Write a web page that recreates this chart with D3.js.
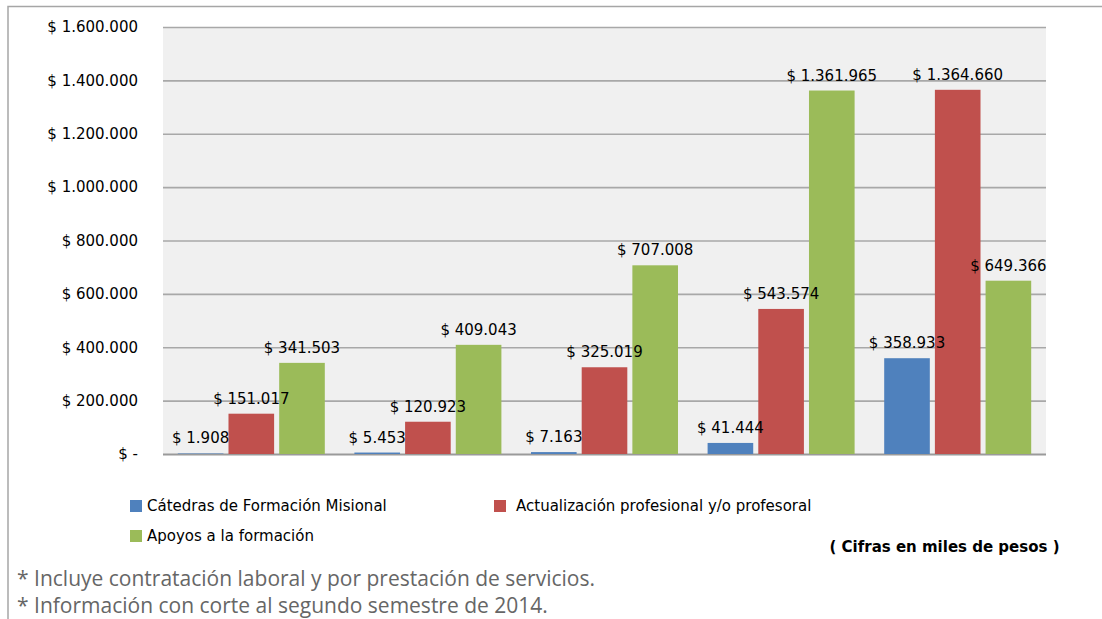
<!DOCTYPE html>
<html>
<head>
<meta charset="utf-8">
<script src="https://cdn.jsdelivr.net/npm/d3@7"></script>
<style>
  html, body { margin: 0; padding: 0; background: #fff; }
  svg { display: block; }
</style>
</head>
<body>
<svg id="chart" width="1102" height="619"></svg>
<script>
// Presupuesto por línea de formación (cifras en miles de pesos)
const groups = ["G1", "G2", "G3", "G4", "G5"];
const seriesNames = [
  "Cátedras de Formación Misional",
  "Actualización profesional y/o profesoral",
  "Apoyos a la formación"
];
const catedras = [1908, 5453, 7163, 41444, 358933];
const actualizacion = [151017, 120923, 325019, 543574, 1364660];
const apoyos = [341503, 409043, 707008, 1361965, 649366];
const seriesColors = ["#4F81BD", "#C0504D", "#9BBB59"];
const yTicks = [0, 200000, 400000, 600000, 800000, 1000000, 1200000, 1400000, 1600000];
const notes = [
  "* Incluye contratación laboral y por prestación de servicios.",
  "* Información con corte al segundo semestre de 2014."
];
const unitsLabel = "( Cifras en miles de pesos )";

const seriesValues = [catedras, actualizacion, apoyos];

// Formato con punto como separador de miles
const fmt = v => "$ " + d3.format(",")(v).replace(/,/g, ".");

const svg = d3.select("#chart");
const font = "'DejaVu Sans', Verdana, sans-serif";

// Marco exterior
svg.append("path")
  .attr("d", "M8,619 L8,6.5 L1102,6.5")
  .attr("fill", "none")
  .attr("stroke", "#A6A6A6")
  .attr("stroke-width", 1.5);

const plot = { left: 163, right: 1046, top: 27, bottom: 454 };

const x0 = d3.scaleBand().domain(groups)
  .range([plot.left, plot.right]).paddingInner(0).paddingOuter(0);
const x1 = d3.scaleBand().domain(d3.range(seriesNames.length))
  .range([0, 147]).paddingInner(0.1).paddingOuter(0);
const y = d3.scaleLinear().domain([0, 1600000]).range([plot.bottom, plot.top]);

// Fondo del área de trazado
svg.append("rect")
  .attr("x", plot.left).attr("y", plot.top)
  .attr("width", plot.right - plot.left).attr("height", plot.bottom - plot.top)
  .attr("fill", "#F0F0F0");

// Eje Y con líneas de cuadrícula
const yAxis = d3.axisLeft(y).tickValues(yTicks)
  .tickSize(-(plot.right - plot.left)).tickPadding(25)
  .tickFormat(v => v === 0 ? "$ -" : fmt(v));
const gy = svg.append("g")
  .attr("transform", `translate(${plot.left},0)`)
  .call(yAxis);
gy.select(".domain").remove();
gy.selectAll(".tick line")
  .attr("stroke", d => d === 0 ? "#9A9A9A" : "#A8A8A8")
  .attr("stroke-width", d => d === 0 ? 2 : 1.6);
gy.selectAll(".tick text")
  .attr("font-family", font).attr("font-size", 15).attr("fill", "#000")
  .attr("dy", "0.32em");

// Datos planos: una entrada por barra
const flat = [];
groups.forEach((g, gi) => {
  seriesValues.forEach((vals, si) => flat.push({ g, si, v: vals[gi] }));
});
const offset = (x0.bandwidth() - 147) / 2;
const bx = d => x0(d.g) + offset + x1(d.si);

// Barras
svg.append("g").selectAll("rect")
  .data(flat).join("rect")
  .attr("x", bx).attr("width", x1.bandwidth())
  .attr("y", d => y(d.v)).attr("height", d => y(0) - y(d.v))
  .attr("fill", d => seriesColors[d.si]);

// Etiquetas de valor, por encima de todas las barras
svg.append("g").selectAll("text")
  .data(flat).join("text")
  .attr("x", d => bx(d) + x1.bandwidth() / 2)
  .attr("y", d => y(d.v) - 10)
  .attr("text-anchor", "middle")
  .attr("font-family", font).attr("font-size", 15).attr("fill", "#000")
  .text(d => fmt(d.v));

// Leyenda
const legendItems = [
  { x: 130, y: 506, tx: 147 },
  { x: 494, y: 506, tx: 516 },
  { x: 130, y: 536, tx: 147 }
];
const legend = svg.append("g");
seriesNames.forEach((name, i) => {
  const it = legendItems[i];
  legend.append("rect")
    .attr("x", it.x).attr("y", it.y - 6)
    .attr("width", 12).attr("height", 12)
    .attr("fill", seriesColors[i]);
  legend.append("text")
    .attr("x", it.tx).attr("y", it.y)
    .attr("dy", "0.35em")
    .attr("font-family", font).attr("font-size", 15).attr("fill", "#000")
    .text(name);
});

// Unidades
svg.append("text")
  .attr("x", 944.5).attr("y", 547).attr("dy", "0.35em")
  .attr("text-anchor", "middle")
  .attr("font-family", font).attr("font-size", 15).attr("font-weight", "bold")
  .attr("fill", "#000")
  .text(unitsLabel);

// Notas al pie
svg.append("g").selectAll("text")
  .data(notes).join("text")
  .attr("x", 17).attr("y", (d, i) => 579 + i * 27).attr("dy", "0.35em")
  .attr("font-family", "'Open Sans', 'Noto Sans', sans-serif")
  .attr("font-size", 21).attr("fill", "#666")
  .text(d => d);
</script>
</body>
</html>
